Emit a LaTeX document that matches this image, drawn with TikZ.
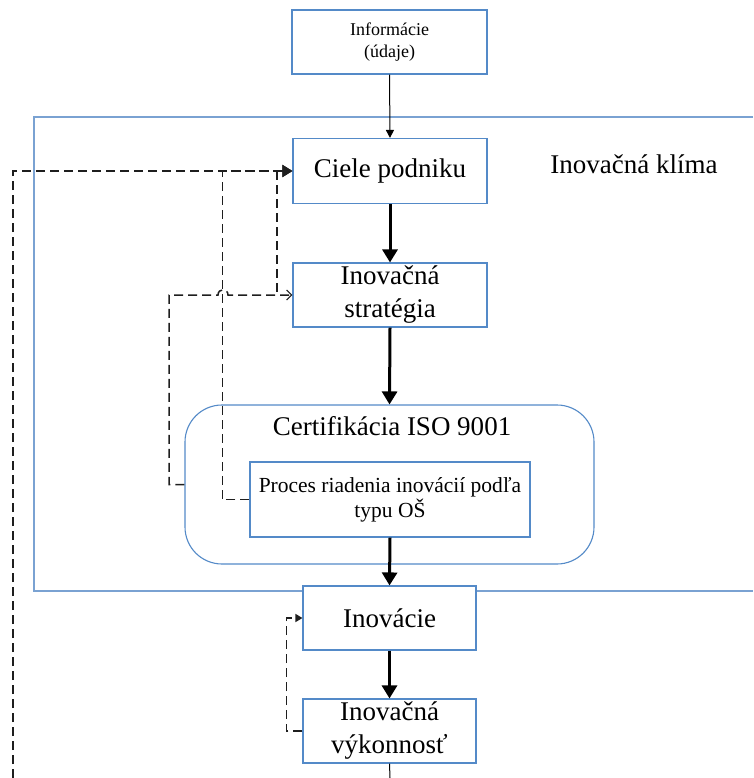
\documentclass[tikz,border=0pt]{standalone}
\usepackage{fontspec}
\setmainfont{Liberation Serif}
\usetikzlibrary{arrows.meta}
\definecolor{boxblue}{RGB}{84,138,200}
\definecolor{climblue}{RGB}{122,162,210}
\definecolor{dashgray}{RGB}{30,30,30}
\begin{document}
\begin{tikzpicture}[x=1pt,y=-1pt,
  box/.style={draw=boxblue,line width=1.1pt,fill=white,inner sep=0pt,align=center,
    font=\fontsize{27}{33}\selectfont},
  bigtext/.style={inner sep=0pt,font=\fontsize{27}{33}\selectfont},
  flow/.style={line width=3pt,-{Triangle[length=13pt,width=15pt]}},
  thinflow/.style={line width=1pt,-{Triangle[length=8pt,width=8pt]}},
  feedback/.style={dashgray,line width=1.5pt,dash pattern=on 9pt off 5pt},
  fbarrow/.style={feedback,-{Triangle[length=10pt,width=12pt]}},
  fbopen/.style={feedback,-{Straight Barb[length=5pt,width=10pt,line width=1.2pt]}},
  fbsmall/.style={feedback,-{Triangle[length=7pt,width=8pt]}}]
\useasboundingbox (0,0) rectangle (753,778);

% innovation climate frame (open on the right)
\draw[climblue,line width=1.6pt] (753,117) -- (34,117) -- (34,591) -- (753,591);
\node[bigtext,anchor=base] (klima) at (634,174) {Inovačná klíma};

% main boxes
\node[box,minimum width=195pt,minimum height=64pt,font=\fontsize{18}{22}\selectfont]
  (info) at (389.5,42) {Informácie\\(údaje)};
\node[box,minimum width=194pt,minimum height=65pt] (ciele) at (390,171) {Ciele podniku};
\node[box,minimum width=194pt,minimum height=64pt] (strat) at (390,295) {Inovačná\\stratégia};
\node[draw=boxblue,line width=1.1pt,fill=white,rounded corners=37pt,
  minimum width=409pt,minimum height=159pt,inner sep=0pt] (cert) at (389.5,484.5) {};
\node[bigtext,anchor=base] (certtitle) at (392,435) {Certifikácia ISO 9001};
\node[box,minimum width=280pt,minimum height=75pt,font=\fontsize{21.5}{25}\selectfont]
  (proc) at (390,499.5) {Proces riadenia inovácií podľa\\typu OŠ};
\node[box,minimum width=173pt,minimum height=64pt] (inov) at (389.5,618) {Inovácie};
\node[box,minimum width=173pt,minimum height=64pt] (vyk) at (389.5,731) {Inovačná\\výkonnosť};

% main flow
\draw[thinflow] (info.south) -- (ciele.north);
\draw[flow] (ciele.south) -- (strat.north);
\draw[flow] (strat.south) -- (cert.north);
\draw[flow] (proc.south) -- (inov.north);
\draw[flow] (inov.south) -- (vyk.north);
\coordinate (out) at (390,778);
\draw[line width=1pt] (vyk.south) -- (out);

% feedback loops
\coordinate (back) at (13,778);
\draw[fbarrow] (back) |- (ciele.west);
\draw[fbarrow] (proc.west) -- ++(-27,0) |- (ciele.west);
\coordinate (j1) at (277,171);
\coordinate (j2) at (277,295);
\draw[feedback] (j1) -- (j2);
\draw[fbopen] (cert.west) -- (169,484.5) -- (169,295) -- (218,295)
  .. controls (218,288) and (228,288) .. (228,295) -- (strat.west);
\draw[fbsmall] (vyk.west) -- ++(-16,0) |- (inov.west);
\end{tikzpicture}
\end{document}
